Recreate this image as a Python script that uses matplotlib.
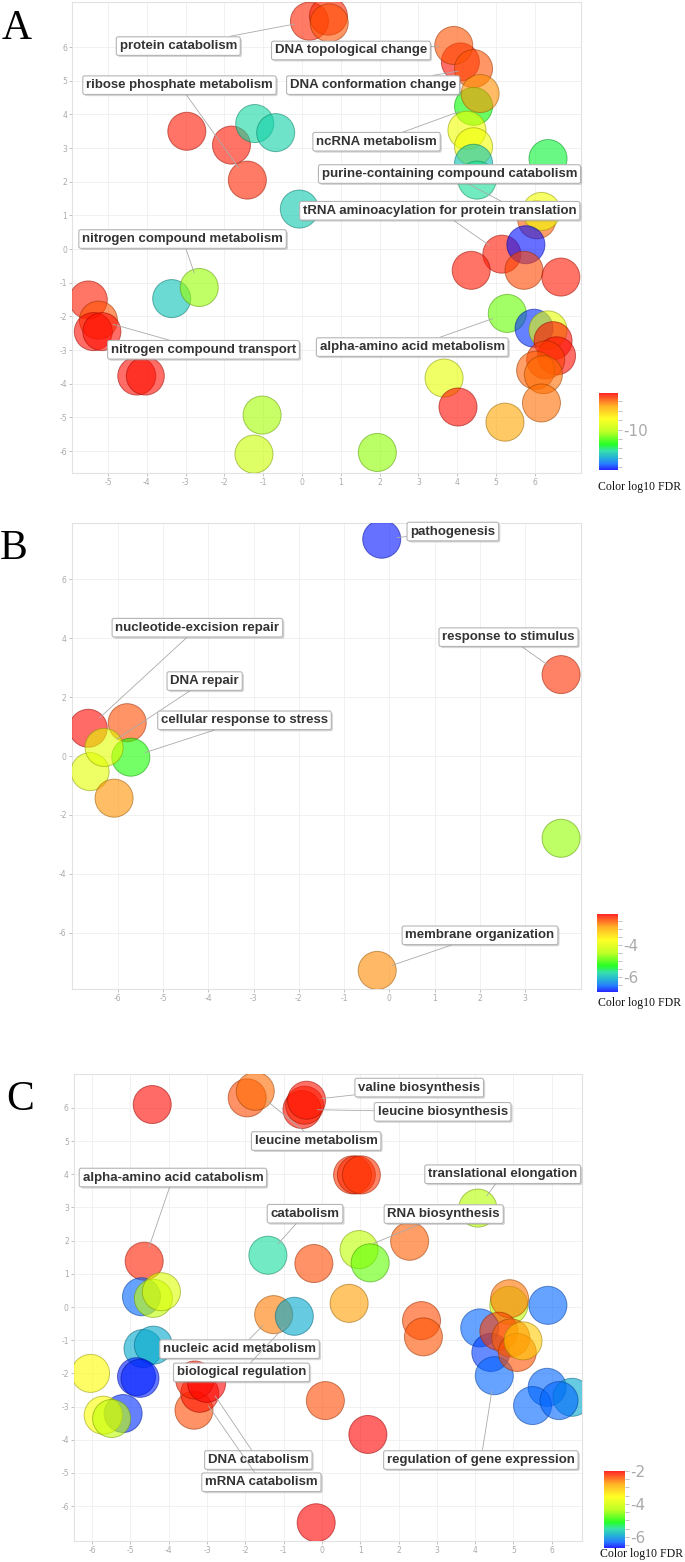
import numpy as np
import matplotlib
matplotlib.use("Agg")
import matplotlib.pyplot as plt
import matplotlib.patheffects as pe
from matplotlib.colors import LinearSegmentedColormap, Normalize
from matplotlib.cm import ScalarMappable

plt.rcParams["axes.unicode_minus"] = False

# ---------------- panel A ----------------
a_x = [0.19, 0.68, 0.70, 4.08, 3.91, 4.42, 4.42, 4.59, 4.25, 4.42, 4.42, 4.51, 6.34, 6.05, 6.17,
       5.15, 5.77, 4.36, 5.72, 6.67, -2.97, -1.82, -1.22, -0.68, -1.41, -0.07, -5.51, -5.25,
       -5.38, -5.16, -4.26, -4.04, -3.36, -2.65, -1.03, -1.24, 1.94, 5.29, 5.98, 6.34, 6.47,
       6.56, 6.28, 6.02, 6.22, 6.17, 5.23, 3.66, 4.02]
a_y = [6.77, 6.92, 6.72, 5.56, 6.05, 5.36, 4.24, 4.62, 3.53, 3.04, 2.55, 2.05, 2.69, 0.87, 1.12,
       -0.15, 0.13, -0.63, -0.63, -0.83, 3.50, 3.09, 3.73, 3.46, 2.05, 1.19, -1.51, -2.11,
       -2.45, -2.45, -3.77, -3.77, -1.47, -1.14, -4.93, -6.09, -6.04, -1.91, -2.35, -2.40, -2.72,
       -3.17, -3.29, -3.60, -3.73, -4.57, -5.14, -3.83, -4.69]
a_fdr = [-6.4, -6.4, -6.8, -6.2, -6.8, -6.8, -11.5, -7.3, -9.1, -9.1, -12.6, -12.2, -11.8, -6.9, -9.1,
         -6.3, -14.2, -6.3, -6.7, -6.3, -6.3, -6.3, -12.3, -12.4, -6.4, -12.5, -6.35, -6.8,
         -6.2, -6.2, -6.2, -6.2, -12.6, -10.4, -10.3, -9.8, -10.5, -10.8, -14.0, -9.3, -6.2,
         -6.2, -6.6, -6.9, -7.0, -7.0, -7.5, -9.3, -6.2]
a_labels = ["protein catabolism", "DNA topological change", "ribose phosphate metabolism",
            "DNA conformation change", "ncRNA metabolism", "purine-containing compound catabolism",
            "tRNA aminoacylation for protein translation", "nitrogen compound metabolism",
            "nitrogen compound transport", "alpha-amino acid metabolism"]
a_label_idx = [0, 4, 24, 5, 6, 13, 15, 33, 27, 37]
a_label_pos = [(-3.19, 6.03), (1.26, 5.90), (-3.16, 4.87), (1.83, 4.87), (1.92, 3.19),
               (3.80, 2.23), (3.55, 1.14), (-3.08, 0.30), (-2.54, -2.99), (2.84, -2.91)]

# ---------------- panel B ----------------
b_x = [-0.17, 3.79, -6.61, -6.08, -5.79, -6.65, -5.71, -6.30, 3.79, -0.27]
b_y = [7.35, 2.76, -0.53, -1.43, 1.13, 0.94, -0.04, 0.29, -2.79, -7.27]
b_fdr = [-6.85, -2.30, -4.0, -2.8, -2.45, -2.1, -5.2, -4.0, -4.65, -2.75]
b_labels = ["pathogenesis", "nucleotide-excision repair", "response to stimulus", "DNA repair",
            "cellular response to stress", "membrane organization"]
b_label_idx = [0, 5, 1, 7, 6, 9]
b_label_pos = [(1.40, 7.61), (-4.24, 4.35), (2.63, 4.03), (-4.08, 2.54), (-3.20, 1.21), (2.00, -6.08)]

# ---------------- panel C ----------------
c_x = [-4.43, -1.95, -1.74, -0.52, -0.45, -0.40, 0.80, 0.90, 1.03, 4.07, -4.64, -1.41, -0.21,
       0.97, 1.26, 2.29, -4.71, -4.40, -4.19, -4.67, -4.40, -6.04, -4.84, -4.75, -5.19, -5.71,
       -5.49, -3.34, -3.19, -3.32, -3.01, -1.26, -0.72, 0.71, 2.60, 2.65, 0.09, 1.20, -0.15,
       4.88, 4.90, 5.90, 4.12, 4.41, 4.50, 4.62, 4.93, 5.10, 5.25, 5.88, 5.50, 6.53, 6.19]
c_y = [6.10, 6.30, 6.50, 5.95, 6.08, 6.23, 3.98, 3.98, 3.98, 2.98, 1.38, 1.56, 1.31, 1.73, 1.33,
       1.98, 0.31, 0.26, 0.46, -1.25, -1.15, -2.00, -2.10, -2.15, -3.21, -3.26, -3.36, -3.11,
       -2.60, -2.20, -2.30, -0.23, -0.28, 0.11, -0.41, -0.90, -2.82, -3.84, -6.50, 0.05, 0.25,
       0.05, -0.63, -1.37, -2.07, -0.73, -0.93, -1.37, -1.02, -2.42, -2.97, -2.72, -2.82]
c_fdr = [-2.05, -2.35, -2.5, -2.1, -2.15, -2.1, -2.25, -2.2, -2.25, -4.3, -2.15, -5.5, -2.35,
         -4.2, -4.7, -2.45, -6.3, -4.2, -3.9, -5.9, -5.9, -3.55, -6.55, -6.55, -6.5, -3.6,
         -4.2, -2.35, -2.1, -2.15, -2.0, -2.6, -5.9, -2.75, -2.35, -2.4, -2.35, -2.0, -2.0,
         -4.2, -2.55, -6.3, -6.3, -6.45, -6.3, -2.3, -2.45, -2.4, -3.1, -6.3, -6.3, -5.9, -6.3]
c_labels = ["valine biosynthesis", "leucine biosynthesis", "leucine metabolism",
            "alpha-amino acid catabolism", "translational elongation", "catabolism",
            "RNA biosynthesis", "nucleic acid metabolism", "biological regulation",
            "DNA catabolism", "mRNA catabolism", "regulation of gene expression"]
c_label_idx = [5, 3, 2, 10, 9, 11, 13, 31, 32, 30, 28, 44]
c_label_pos = [(2.54, 6.61), (3.15, 5.88), (-0.15, 5.00), (-3.89, 3.90), (4.72, 4.00),
               (-0.44, 2.81), (3.18, 2.80), (-2.15, -1.27), (-2.10, -1.97), (-1.66, -4.61),
               (-1.58, -5.28), (4.15, -4.61)]

cmap = LinearSegmentedColormap.from_list("revigo", [
    (0.0, "#0000ff"), (0.08, "#0067ff"), (0.17, "#00abc9"), (0.25, "#14dc9e"),
    (0.333, "#00ff00"), (0.5, "#b4ff00"), (0.667, "#ffff00"), (0.833, "#ffa500"),
    (1.0, "#ff0000")])

W, H = 685, 1562
fig = plt.figure(figsize=(W / 100, H / 100), dpi=100)


def rect(l, r, t, b):
    return [l / W, 1 - b / H, (r - l) / W, (b - t) / H]


lab_font = ["Liberation Sans Narrow", "Liberation Sans"]
shadow = [pe.SimplePatchShadow(offset=(1.2, -1.2), shadow_rgbFace="#888888", alpha=0.35), pe.Normal()]


def panel(box, xs, ys, vals, vmin, vmax, xlim, ylim, xticks, yticks,
          labels, label_idx, label_pos, cbox, cticks, clabels, letter, letter_xy, ctext_xy):
    ax = fig.add_axes(rect(*box))
    norm = Normalize(vmin, vmax)
    rgba = cmap(norm(np.array(vals)))
    fc = rgba.copy()
    fc[:, 3] = 0.6
    ec = rgba.copy()
    ec[:, :3] *= 0.6
    ec[:, 3] = 0.55
    ax.scatter(xs, ys, s=750, c=fc, edgecolors=ec, linewidths=0.7, zorder=3)
    for name, k, (tx, ty) in zip(labels, label_idx, label_pos):
        ann = ax.annotate(name, xy=(xs[k], ys[k]), xytext=(tx, ty), ha="center", va="center",
                          fontsize=9.5, fontweight="bold", family=lab_font, color="#333333",
                          bbox=dict(boxstyle="round,pad=0.25,rounding_size=0.15", fc="white",
                                    ec="#b5b5b5", lw=0.8),
                          arrowprops=dict(arrowstyle="-", color="#aaaaaa", lw=0.6,
                                          shrinkA=0, shrinkB=11),
                          zorder=5)
        ann.get_bbox_patch().set_path_effects(shadow)
    ax.set_xlim(*xlim)
    ax.set_ylim(*ylim)
    ax.set_xticks(xticks)
    ax.set_yticks(yticks)
    ax.grid(True, color="#efefef", lw=0.6)
    ax.set_axisbelow(True)
    ax.tick_params(labelsize=5.5, colors="#aaaaaa", length=2, width=0.5, pad=1.5)
    for sp in ax.spines.values():
        sp.set_color("#e2e2e2")
        sp.set_linewidth(0.8)

    cax = fig.add_axes(rect(*cbox))
    cb = fig.colorbar(ScalarMappable(norm=norm, cmap=cmap), cax=cax)
    cb.outline.set_visible(False)
    cb.solids.set_alpha(0.85)
    cb.set_ticks(cticks, labels=[clabels.get(t, "") for t in cticks])
    cax.tick_params(length=3, width=0.5, colors="#aaaaaa", labelsize=11, pad=1)
    fig.text(ctext_xy[0] / W, 1 - ctext_xy[1] / H, "Color log10 FDR", family="Liberation Serif",
             fontsize=8.5, ha="left", va="center", color="#111111")
    fig.text(letter_xy[0] / W, 1 - letter_xy[1] / H, letter, family="Liberation Serif",
             fontsize=30, ha="center", va="center")


panel((72, 581, 2, 473), a_x, a_y, a_fdr, -14.3, -6.1, (-5.93, 7.19), (-6.65, 7.34),
      range(-5, 7), range(-6, 7), a_labels, a_label_idx, a_label_pos,
      (599, 618, 393, 470), list(range(-14, -6)), {-10: "-10"}, "A", (17, 29), (598, 487))

panel((71.5, 581, 523, 989), b_x, b_y, b_fdr, -6.94, -2.06, (-7.02, 4.23), (-7.9, 7.9),
      range(-6, 4), range(-6, 7, 2), b_labels, b_label_idx, b_label_pos,
      (597, 617.5, 914, 992), list(np.arange(-6.5, -2.0, 0.5)), {-4.0: "-4", -6.0: "-6"},
      "B", (14, 549), (598, 1003))

panel((73.7, 582, 1074, 1541), c_x, c_y, c_fdr, -6.67, -2.0, (-6.48, 6.79), (-7.05, 7.02),
      range(-6, 7), range(-6, 7), c_labels, c_label_idx, c_label_pos,
      (604, 625, 1471, 1548), list(np.arange(-6.5, -1.9, 0.5)),
      {-2.0: "-2", -4.0: "-4", -6.0: "-6"}, "C", (20, 1100), (600, 1554))

fig.savefig("out.png", dpi=100)
